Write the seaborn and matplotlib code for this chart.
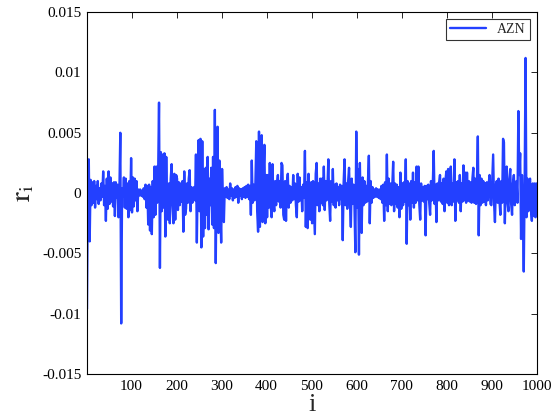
import numpy as np
import pandas as pd
import matplotlib
matplotlib.use("Agg")
import matplotlib.pyplot as plt
import seaborn as sns

# returns, in units of 1e-3, sampled every second index (i = 1, 3, 5, ..., 999)
r_000 = [-9.6, 1.0, 2.8, -4.0, 1.1, -1.0, 0.9, -0.8, 1.0, -1.2, 0.6, -0.5, 1.0, -0.9, 0.4, -0.6, 0.8, -0.3, 1.8, -1.0, 0.6, -2.3, 1.2, -1.3, 1.8]
r_050 = [-0.9, 1.3, -0.7, 0.8, -1.1, 0.9, -1.9, 0.9, -0.4, 0.7, -2.0, 0.2, 5.0, -10.8, 0.4, -0.3, 1.3, -1.2, 1.2, -1.3, 0.8, -2.0, 1.0, -1.4, 2.9]
r_100 = [-1.6, 1.3, -1.1, 1.2, -0.6, 1.0, -1.5, 0.3, -0.2, 0.3, -0.2, 0.2, -0.3, 0.4, -0.5, 0.7, -1.2, 0.6, -2.6, 0.7, -3.1, 0.5, -3.4, 1.0, -2.0]
r_150 = [2.2, -1.8, 2.2, -0.8, 1.5, 7.5, -6.2, 3.4, -1.5, 3.2, -1.2, 3.3, -3.6, 3.0, -1.5, -2.2, 0.8, -2.5, 1.2, 2.4, -1.0, -2.5, 1.6, -2.2, 1.5]
r_200 = [1.2, -1.4, 0.9, -1.0, 0.8, -0.7, 1.0, -3.2, 1.8, -1.8, -1.3, 0.8, -0.8, 1.2, 1.9, -1.5, 0.5, -0.8, 0.4, 0.5, -0.6, 3.2, -4.1, 1.5, 4.4]
r_250 = [-1.5, 4.5, -4.5, 4.3, -3.6, 2.0, -2.9, 2.1, -1.8, 3.0, -3.0, 1.2, -1.0, 2.1, -2.6, 3.0, -2.9, 6.9, -5.8, 2.7, 5.5, -3.3, 2.7, -1.0, -4.1]
r_300 = [2.0, -0.5, -2.4, 0.4, -0.3, 0.5, -0.4, 0.3, -0.5, 0.8, -0.2, 0.4, -0.6, 0.3, -0.4, 0.5, -0.3, 0.6, -0.8, 0.4, -0.2, 0.3, -0.5, 0.4, -0.3]
r_350 = [0.5, -0.4, 0.6, -0.3, 0.7, -0.5, 0.6, -1.8, 2.7, -0.8, 0.7, -0.6, 0.8, 4.3, -1.5, -3.2, 5.1, -2.8, 2.0, 4.8, -2.4, 1.5, 4.0, -2.5, 1.5]
r_400 = [-2.0, 1.5, -1.2, 2.5, -1.0, -2.0, 2.4, -0.8, -1.5, 1.0, -1.0, 0.8, 1.5, -0.7, 1.0, -1.2, 2.5, 2.3, -1.8, -2.2, 1.0, -2.3, 0.8, 1.6, -1.2]
r_450 = [0.6, -0.8, 0.5, -0.6, 1.5, -0.5, 0.8, -1.0, -2.0, 1.6, -0.7, 1.3, -0.6, 0.5, -1.5, 0.7, -0.4, 3.5, -2.8, 0.9, -2.9, 1.6, -0.8, -2.2, 0.9]
r_500 = [-2.5, 1.0, -1.2, -3.4, 1.6, 2.5, -1.0, 0.8, -1.5, 1.2, -0.8, 1.2, -1.0, 2.2, -1.4, 1.0, -0.6, 0.5, 2.8, -0.8, -2.3, 1.0, -0.7, 2.0, -1.0]
r_550 = [0.7, -1.2, 0.8, -0.6, 0.5, -1.0, 0.7, -0.5, 0.6, -3.9, 0.9, 2.8, -1.0, 0.8, -1.3, 1.0, 2.1, -0.8, -2.8, 1.2, -0.9, 0.7, -1.0, -4.9, 5.1]
r_600 = [-1.2, 2.0, -5.1, 2.5, -1.5, -3.3, 1.3, -1.0, 1.0, -0.8, 0.6, -0.7, 1.0, 3.1, -2.5, 1.0, -0.8, 0.5, -0.4, 0.3, -0.3, 0.4, -0.3, 0.3, -0.4]
r_650 = [0.3, -0.5, 0.6, -0.8, 0.7, -2.3, 0.9, -1.0, 3.2, -1.5, 1.2, -0.9, 0.8, -1.0, 0.6, 2.6, -1.5, 0.8, -0.9, 0.7, -1.2, 0.5, -2.0, 1.7, -1.3]
r_700 = [0.8, -1.0, 0.9, -0.7, 2.8, -4.2, 1.0, -1.0, 0.8, -2.2, 1.0, -0.8, 1.7, -1.2, 0.9, -0.8, 2.2, -0.6, 2.2, -0.9, -2.2, 0.8, -0.6, 0.5, -0.7]
r_750 = [0.6, -3.5, 0.6, -0.5, 0.7, -0.8, -1.8, 1.0, -0.6, 0.8, 3.5, -0.9, 0.7, -2.4, 0.8, -0.6, 0.9, 1.5, -0.7, 0.8, -0.9, 1.2, -1.5, 1.0, 1.8]
r_800 = [-0.8, 2.0, -1.0, 1.2, 2.2, -1.0, 0.8, -0.7, 2.8, -2.3, 0.9, -0.6, 1.0, -0.8, 1.5, -1.5, 0.8, -0.7, 2.3, -0.6, 1.7, -0.8, 1.7, -0.6, 1.0]
r_850 = [-0.7, 0.9, -0.8, 1.2, 2.1, -0.8, 1.2, -0.9, 1.0, 4.7, -3.5, 1.5, -1.0, 1.2, -0.8, 1.0, -0.7, 0.8, -1.0, 0.9, -0.6, 0.7, 1.5, -0.9, -1.0]
r_900 = [1.0, 3.2, -0.8, -2.4, 0.7, 1.0, -0.8, 1.2, -0.6, -1.8, 1.0, -0.8, 4.5, 4.2, -2.5, 1.0, 2.2, -0.8, -1.5, 1.2, 2.0, -0.9, -1.8, 0.8, 1.5]
r_950 = [-1.0, 0.8, 1.0, -0.8, 6.8, 1.5, 3.3, -3.8, 1.5, -1.0, -6.5, 1.0, 11.2, -2.0, 1.2, -1.5, 0.9, 1.2, -1.4, -2.3, 0.8, -1.9, 0.8, -2.0, 0.8]

series_name = "AZN"
x_ticks = [100, 200, 300, 400, 500, 600, 700, 800, 900, 1000]
y_ticks = [-0.015, -0.01, -0.005, 0, 0.005, 0.01, 0.015]
y_tick_labels = ["-0.015", "-0.01", "-0.005", "0", "0.005", "0.01", "0.015"]

r_milli = (r_000 + r_050 + r_100 + r_150 + r_200 + r_250 + r_300 + r_350 + r_400 + r_450
           + r_500 + r_550 + r_600 + r_650 + r_700 + r_750 + r_800 + r_850 + r_900 + r_950)
idx = np.arange(1, 2 * len(r_milli), 2)
df = pd.DataFrame({"i": idx, "r": np.array(r_milli) * 1e-3})

sns.set_theme(style="white")
plt.rcParams["font.family"] = ["Liberation Serif", "DejaVu Serif"]
plt.rcParams["mathtext.fontset"] = "stix"

fig = plt.figure(figsize=(5.54, 4.18), dpi=100)
ax = fig.add_axes([0.157, 0.105, 0.812, 0.866])
sns.lineplot(data=df, x="i", y="r", ax=ax, color="#2340ff", linewidth=1.7, label=series_name)

ax.set_xlim(1, 1000)
ax.set_ylim(-0.015, 0.015)
ax.set_xticks(x_ticks)
ax.set_xticklabels([str(t) for t in x_ticks])
ax.set_yticks(y_ticks)
ax.set_yticklabels(y_tick_labels)
ax.tick_params(direction="in", length=4, width=0.6, top=True, right=True,
               labelsize=11, colors="black", pad=4)
for s in ax.spines.values():
    s.set_color("black")
    s.set_linewidth(0.8)
ax.set_xlabel("i", fontsize=19, labelpad=1)
ax.set_ylabel(r"$\mathrm{r}_\mathrm{i}$", fontsize=21, labelpad=4)

leg = ax.legend(loc="upper right", fontsize=10, frameon=True, fancybox=False,
                borderpad=0.3, handlelength=2.6, borderaxespad=0.5)
leg.get_frame().set_edgecolor("black")
leg.get_frame().set_linewidth(0.8)

fig.savefig("out.png", dpi=100)
